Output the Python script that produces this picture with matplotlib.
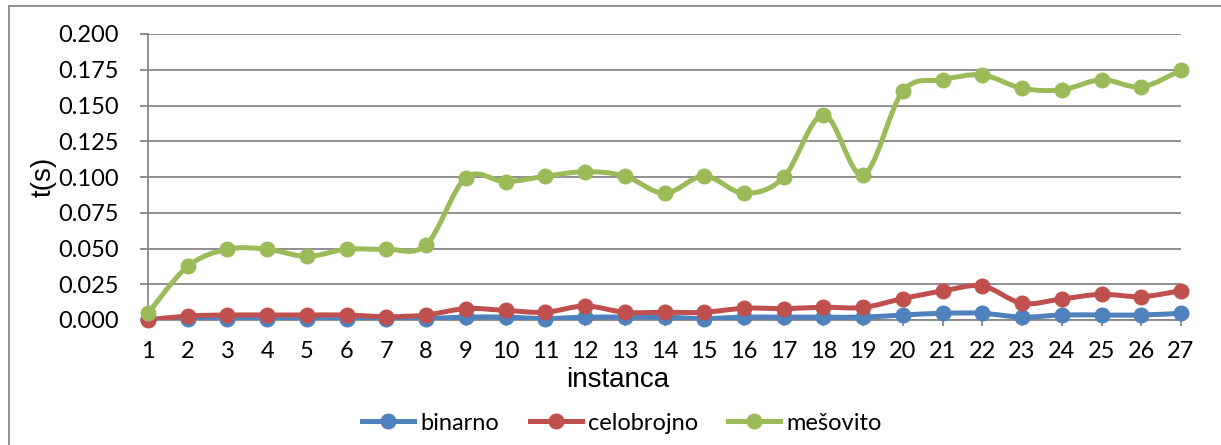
import matplotlib.pyplot as plt
from matplotlib.path import Path
from matplotlib.patches import PathPatch, Rectangle
from matplotlib.lines import Line2D

# Data
instanca = list(range(1, 28))
binarno = [0.0005, 0.001, 0.0005, 0.001, 0.001, 0.001, 0.001, 0.001, 0.002,
           0.002, 0.001, 0.002, 0.002, 0.002, 0.001, 0.002, 0.002, 0.002,
           0.002, 0.0035, 0.0047, 0.0047, 0.002, 0.0035, 0.0035, 0.0035, 0.0047]
celobrojno = [0.000, 0.0028, 0.0035, 0.0035, 0.0035, 0.0035, 0.0023, 0.0035, 0.008,
              0.0067, 0.0054, 0.0098, 0.0054, 0.0054, 0.0054, 0.0082, 0.008, 0.0089,
              0.0088, 0.015, 0.0203, 0.0238, 0.0117, 0.0147, 0.018, 0.0163, 0.0205]
mesovito = [0.0047, 0.0375, 0.0495, 0.0495, 0.0445, 0.0495, 0.0495, 0.0525, 0.0995,
            0.0967, 0.1005, 0.1037, 0.1007, 0.0886, 0.1007, 0.0886, 0.0997, 0.1435,
            0.1015, 0.160, 0.168, 0.1713, 0.162, 0.161, 0.168, 0.163, 0.1748]

series = [('binarno', binarno, '#4F81BD'),
          ('celobrojno', celobrojno, '#C0504D'),
          ('mešovito', mesovito, '#9BBB59')]

yticks = [0.000, 0.025, 0.050, 0.075, 0.100, 0.125, 0.150, 0.175, 0.200]

grid_col = '#878787'
tick_font = 'Lato'


def smooth_path(xs, ys):
    # Excel style smoothed line: cubic bezier segments through the points
    verts = [(xs[0], ys[0])]
    codes = [Path.MOVETO]
    n = len(xs)
    for i in range(n - 1):
        x0, y0 = (xs[i - 1], ys[i - 1]) if i > 0 else (xs[i], ys[i])
        x1, y1 = xs[i], ys[i]
        x2, y2 = xs[i + 1], ys[i + 1]
        x3, y3 = (xs[i + 2], ys[i + 2]) if i + 2 < n else (x2, y2)
        c1 = (x1 + (x2 - x0) / 6, y1 + (y2 - y0) / 6)
        c2 = (x2 - (x3 - x1) / 6, y2 - (y3 - y1) / 6)
        verts += [c1, c2, (x2, y2)]
        codes += [Path.CURVE4] * 3
    return Path(verts, codes)


fig = plt.figure(figsize=(12.21, 4.45), dpi=100)
ax = fig.add_axes([148 / 1221, 1 - 320 / 445, (1181 - 148) / 1221, (320 - 34) / 445])

for name, vals, col in series:
    ax.add_patch(PathPatch(smooth_path(instanca, vals), fill=False, edgecolor=col,
                           lw=3.6, capstyle='round', joinstyle='round', zorder=3))
    ax.plot(instanca, vals, linestyle='none', marker='o', markersize=10.5,
            color=col, zorder=4, clip_on=False)

ax.set_xlim(1, 27)
ax.set_ylim(0, 0.2)
ax.set_xticks(instanca)
ax.set_xticklabels([str(i) for i in instanca], fontsize=17, family=tick_font)
ax.set_yticks(yticks)
ax.set_yticklabels(['%.3f' % v for v in yticks], fontsize=17, family=tick_font)

ax.grid(axis='y', color=grid_col, lw=1.3)
ax.set_axisbelow(True)
for s in ['top', 'right']:
    ax.spines[s].set_visible(False)
for s in ['left', 'bottom']:
    ax.spines[s].set_color(grid_col)
    ax.spines[s].set_linewidth(1.3)
ax.tick_params(axis='y', length=6, width=1.3, color=grid_col, pad=15)
ax.tick_params(axis='x', length=4, width=1.3, color=grid_col, pad=11)

fig.text(618 / 1221, 1 - 380 / 445, 'instanca', ha='center', va='center',
         fontsize=20, family='Liberation Sans')
fig.text(44 / 1221, 1 - 177 / 445, 't(s)', ha='center', va='center', rotation=90,
         fontsize=20, family='Liberation Sans')

handles = [Line2D([], [], color=c, lw=3.6, marker='o', markersize=10.5) for _, _, c in series]
fig.legend(handles, [n for n, _, _ in series], loc='center',
           bbox_to_anchor=(622 / 1221, 1 - 423 / 445), ncol=3, frameon=False,
           prop={'family': tick_font, 'size': 17}, handlelength=2.2,
           handletextpad=0.25, columnspacing=1.3)

fig.patches.append(Rectangle((9 / 1221, -0.1), 1.2, 1 - 6 / 445 + 0.1,
                             transform=fig.transFigure, fill=False,
                             edgecolor=grid_col, lw=1.3))

fig.savefig('out.png', dpi=100)
